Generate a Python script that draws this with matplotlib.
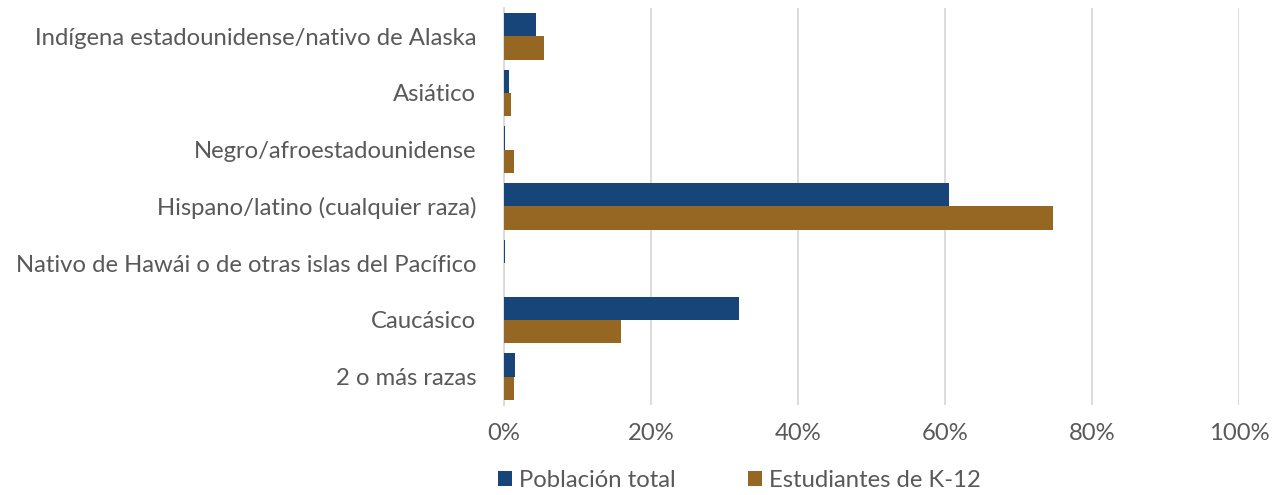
import numpy as np
import matplotlib.pyplot as plt
from matplotlib.ticker import PercentFormatter

categories = ['Indígena estadounidense/nativo de Alaska', 'Asiático',
              'Negro/afroestadounidense', 'Hispano/latino (cualquier raza)',
              'Nativo de Hawái o de otras islas del Pacífico', 'Caucásico',
              '2 o más razas']
poblacion_total = [4.4, 0.7, 0.2, 60.5, 0.15, 32.0, 1.5]
estudiantes_k12 = [5.4, 1.0, 1.4, 74.7, 0.0, 15.9, 1.4]
x_ticks = [0, 20, 40, 60, 80, 100]

blue = '#17457a'
brown = '#966722'
grey_txt = '#595959'

plt.rcParams['font.family'] = ['Lato', 'DejaVu Sans']

fig = plt.figure(figsize=(12.79, 4.95), dpi=100)
ax = fig.add_axes([0.394, 0.182, 0.575, 0.802])

y = np.arange(len(categories))
h = 0.41
ax.barh(y - h / 2, poblacion_total, height=h, color=blue, label='Población total', zorder=3)
ax.barh(y + h / 2, estudiantes_k12, height=h, color=brown, label='Estudiantes de K-12', zorder=3)

ax.set_xlim(0, 100)
ax.set_ylim(len(categories) - 0.5, -0.5)
ax.set_xticks(x_ticks)
ax.xaxis.set_major_formatter(PercentFormatter(decimals=0))
ax.set_yticks(y)
ax.set_yticklabels(categories)
ax.tick_params(axis='both', length=0, labelsize=17.2, colors=grey_txt)
ax.tick_params(axis='x', pad=13)
ax.tick_params(axis='y', pad=20)
ax.grid(axis='x', color='#d9d9d9', linewidth=1.3, zorder=0)
for s in ['top', 'right', 'bottom']:
    ax.spines[s].set_visible(False)
ax.spines['left'].set_color('#d9d9d9')
ax.spines['left'].set_linewidth(1.3)

leg = fig.legend(loc='lower center', bbox_to_anchor=(0.578, -0.035), ncol=2, frameon=False,
                 fontsize=17.2, handlelength=0.6, handleheight=0.6, handletextpad=0.3,
                 columnspacing=3.0)
for t in leg.get_texts():
    t.set_color(grey_txt)

fig.savefig('out.png', dpi=100)
